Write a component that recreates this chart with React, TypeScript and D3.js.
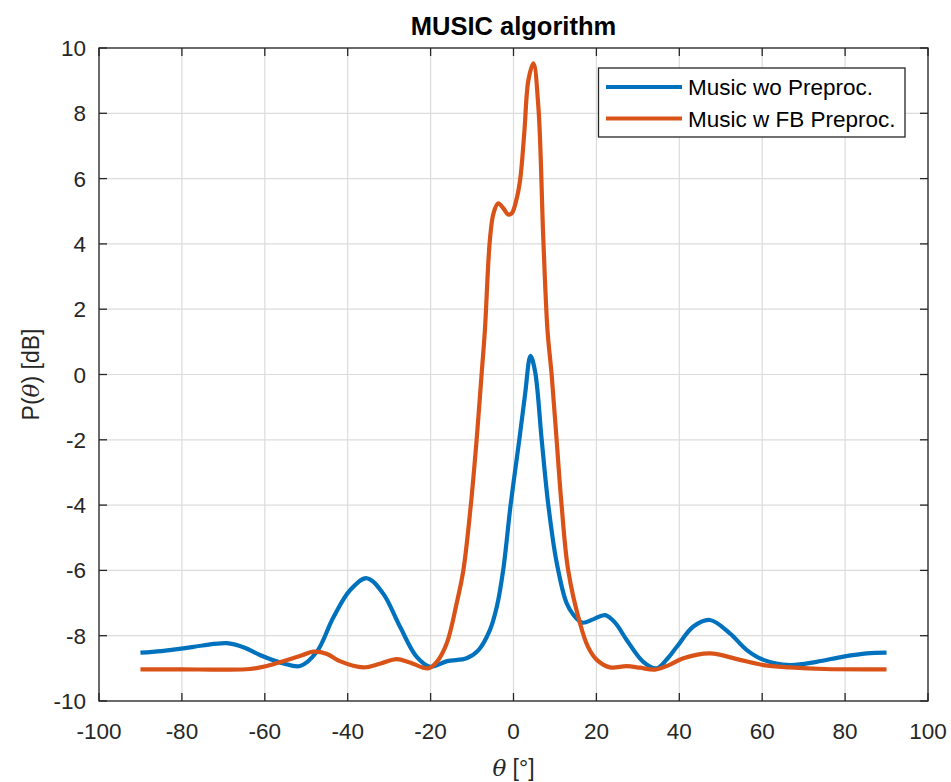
import React from "react";
import * as d3 from "d3";

const thetaWo = [-90, -85, -79.7, -75, -69.2, -65, -61.2, -55.5, -51.5, -47.5, -43.5, -39.4, -35.4, -31.5, -27.4, -23.4, -20.1, -16, -11.3, -8.5, -5.7, -4, -2.5, -0.7, 1.4, 2.8, 4.1, 5.2, 6.8, 8.4, 10.4, 12.8, 14.4, 16.6, 19.2, 22.1, 24.5, 27.3, 31.3, 34.5, 37, 39.4, 43.4, 47.4, 52.2, 56.3, 60.3, 66.7, 73.1, 79.6, 85.2, 90];
const powerWo = [-8.52, -8.47, -8.39, -8.3, -8.23, -8.36, -8.59, -8.85, -8.93, -8.5, -7.45, -6.6, -6.24, -6.7, -7.72, -8.64, -8.95, -8.78, -8.69, -8.45, -7.83, -7.1, -6.0, -4.0, -2.0, -0.6, 0.57, 0.1, -2.0, -4.0, -5.75, -7.0, -7.35, -7.6, -7.5, -7.37, -7.6, -8.13, -8.8, -9.0, -8.72, -8.34, -7.72, -7.52, -7.93, -8.44, -8.74, -8.9, -8.8, -8.64, -8.54, -8.52];

const thetaFb = [-90, -80, -70, -63.6, -59.5, -55, -51, -48.3, -45, -41.9, -36.2, -32, -28.2, -25, -20.6, -18.5, -16.1, -13.7, -12.1, -10.3, -8.9, -7.7, -6.9, -5.7, -4.8, -3.7, -2.5, -1.3, -0.4, 0.6, 1.6, 2.6, 3.6, 4.8, 6.0, 7.2, 8.2, 9.2, 10.4, 11.6, 13.2, 16, 18, 20.1, 23.3, 27.3, 30.5, 34.1, 37.5, 41, 47.4, 54.6, 60.3, 66.7, 75, 90];
const powerFb = [-9.03, -9.03, -9.04, -9.02, -8.93, -8.76, -8.6, -8.49, -8.56, -8.78, -8.97, -8.85, -8.72, -8.82, -9.0, -8.8, -8.23, -7.0, -6.0, -4.0, -2.0, 0.0, 1.36, 4.12, 4.95, 5.24, 5.1, 4.9, 4.94, 5.3, 5.96, 7.4, 9.02, 9.53, 8.2, 4.12, 1.36, 0.0, -2.0, -4.0, -6.0, -7.6, -8.35, -8.74, -8.97, -8.93, -8.98, -9.04, -8.9, -8.69, -8.54, -8.74, -8.9, -8.97, -9.02, -9.03];

const xTicks = [-100, -80, -60, -40, -20, 0, 20, 40, 60, 80, 100];
const yTicks = [-10, -8, -6, -4, -2, 0, 2, 4, 6, 8, 10];

const seriesNames = ["Music wo Preproc.", "Music w FB Preproc."];
const colors = ["#0072BD", "#D95319"];

const W = 951, H = 782;
const L = 99, R = 928, T = 48, B = 701;
const FONT = "Arial, 'Liberation Sans', Helvetica, sans-serif";
const AX = "#262626";

export default function App() {
  const x = d3.scaleLinear().domain([-100, 100]).range([L, R]);
  const y = d3.scaleLinear().domain([-10, 10]).range([B, T]);
  const line = d3.line<[number, number]>().x(d => x(d[0])).y(d => y(d[1])).curve(d3.curveCatmullRom.alpha(0.5));
  const wo = thetaWo.map((t, i) => [t, powerWo[i]] as [number, number]);
  const fb = thetaFb.map((t, i) => [t, powerFb[i]] as [number, number]);
  const tl = 8;
  return (
    <svg width={W} height={H} style={{ position: "absolute", left: 0, top: 0, background: "#fff" }} fontFamily={FONT}>
      <rect x={0} y={0} width={W} height={H} fill="#fff" />
      {xTicks.map(t => (
        <line key={"gx" + t} x1={x(t)} x2={x(t)} y1={T} y2={B} stroke="#dcdcdc" strokeWidth={1.2} />
      ))}
      {yTicks.map(t => (
        <line key={"gy" + t} x1={L} x2={R} y1={y(t)} y2={y(t)} stroke="#dcdcdc" strokeWidth={1.2} />
      ))}
      <path d={line(wo) || ""} fill="none" stroke={colors[0]} strokeWidth={4.2} strokeLinejoin="round" />
      <path d={line(fb) || ""} fill="none" stroke={colors[1]} strokeWidth={4.2} strokeLinejoin="round" />
      <rect x={L} y={T} width={R - L} height={B - T} fill="none" stroke={AX} strokeWidth={1.3} />
      {xTicks.map(t => (
        <g key={"tx" + t}>
          <line x1={x(t)} x2={x(t)} y1={B} y2={B - tl} stroke={AX} strokeWidth={1.3} />
          <line x1={x(t)} x2={x(t)} y1={T} y2={T + tl} stroke={AX} strokeWidth={1.3} />
          <text x={x(t)} y={738.5} textAnchor="middle" fontSize={22.5} fill={AX}>{t}</text>
        </g>
      ))}
      {yTicks.map(t => (
        <g key={"ty" + t}>
          <line x1={L} x2={L + tl} y1={y(t)} y2={y(t)} stroke={AX} strokeWidth={1.3} />
          <line x1={R} x2={R - tl} y1={y(t)} y2={y(t)} stroke={AX} strokeWidth={1.3} />
          <text x={86} y={y(t) + 8} textAnchor="end" fontSize={22.5} fill={AX}>{t}</text>
        </g>
      ))}
      <text x={(L + R) / 2} y={35} textAnchor="middle" fontSize={25.5} fontWeight="bold" fill="#000">MUSIC algorithm</text>
      <text x={(L + R) / 2} y={776} textAnchor="middle" fontSize={23} fill={AX}>
        <tspan fontStyle="italic" fontFamily="'DejaVu Serif', 'Liberation Serif', serif">θ</tspan> [°]
      </text>
      <text transform={`translate(39, ${(T + B) / 2}) rotate(-90)`} textAnchor="middle" fontSize={23} fill={AX}>
        P(<tspan fontStyle="italic" fontFamily="'DejaVu Serif', 'Liberation Serif', serif">θ</tspan>) [dB]
      </text>
      <g>
        <rect x={598.5} y={68} width={306.5} height={69} fill="#fff" stroke={AX} strokeWidth={1.3} />
        {seriesNames.map((n, i) => (
          <g key={n}>
            <line x1={606} x2={682} y1={87 + i * 31.5} y2={87 + i * 31.5} stroke={colors[i]} strokeWidth={4.2} />
            <text x={688} y={87 + i * 31.5 + 8} fontSize={22.5} fill="#000">{n}</text>
          </g>
        ))}
      </g>
    </svg>
  );
}
